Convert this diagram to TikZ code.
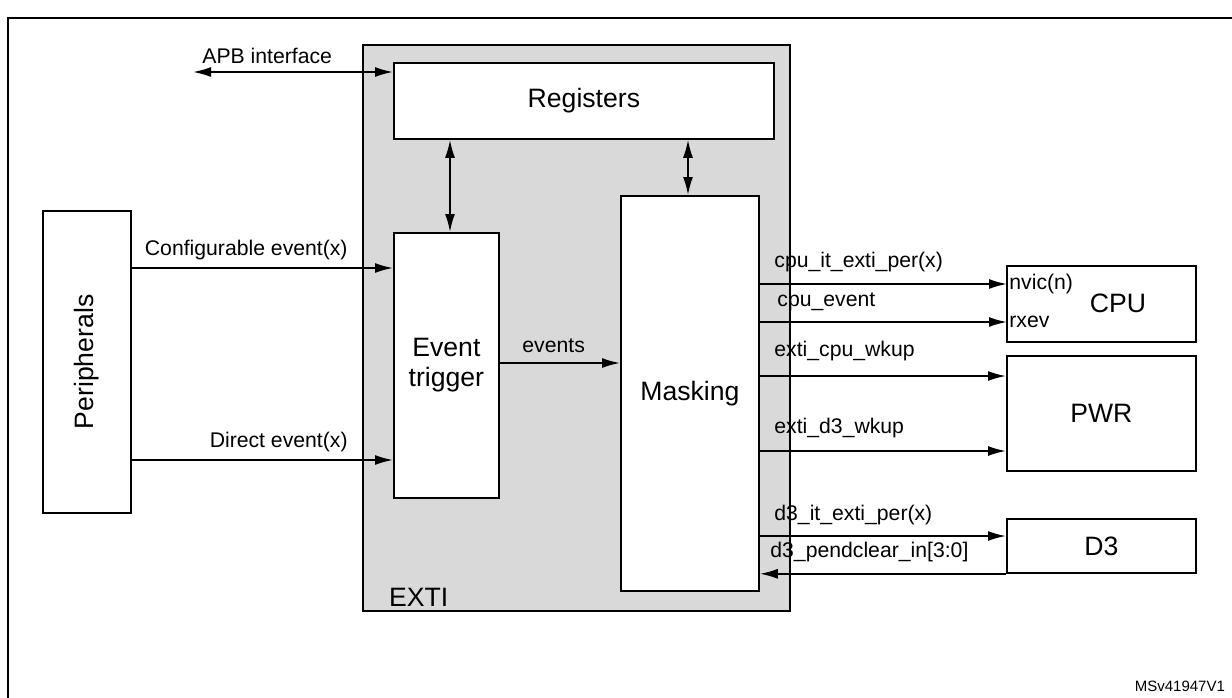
\documentclass[tikz,border=0pt]{standalone}
\usepackage{fontspec}
\setmainfont{Liberation Sans}
\usetikzlibrary{arrows.meta}
\begin{document}
\begin{tikzpicture}[x=0.5pt,y=-0.5pt,
  box/.style={draw,line width=0.9pt,fill=white},
  lab/.style={font=\fontsize{10.6}{12}\selectfont,inner sep=1pt},
  big/.style={font=\fontsize{13.3}{15}\selectfont,align=center},
  ar/.style={-{Latex[length=9pt,width=5pt]},line width=0.9pt},
  dar/.style={{Latex[length=9pt,width=5pt]}-{Latex[length=9pt,width=5pt]},line width=0.9pt}]
\useasboundingbox (0,0) rectangle (1232,697);
\draw[line width=1.3pt] (8,18) rectangle (1245,710);
\node[draw,line width=0.9pt,fill=black!15,minimum width=213.5pt,minimum height=283pt,anchor=north west,inner sep=0] (exti) at (362,44) {};
\node[anchor=south west,big] (extil) at (382,614) {EXTI};
\node[box,anchor=north west,minimum width=190pt,minimum height=38pt,big] (reg) at (393,62) {Registers};
\node[box,anchor=north west,minimum width=52.5pt,minimum height=132.5pt,big,inner sep=0] (evt) at (393,232) {Event\\trigger};
\node[box,anchor=north west,minimum width=69pt,minimum height=197.5pt,big,inner sep=0] (mask) at (620,195) {Masking};
\node[box,anchor=north west,minimum width=44pt,minimum height=151pt,inner sep=0] (per) at (42,210) {};
\node[big,rotate=90] at (per.center) {Peripherals};
\node[box,anchor=north west,minimum width=94.5pt,minimum height=38pt] (cpu) at (1006,265) {};
\node[big] at (1118,303) {CPU};
\node[box,anchor=north west,minimum width=94.5pt,minimum height=57.5pt,big] (pwr) at (1006,355) {PWR};
\node[box,anchor=north west,minimum width=94.5pt,minimum height=27pt,big] (d3) at (1006,518) {D3};
\node[lab,anchor=west] (nvic) at (1007,284) {nvic(n)};
\node[lab,anchor=west] (rxev) at (1007,322) {rxev};
\coordinate (apb) at (193,72);
\node[lab,anchor=south west] at (200,66) {APB interface};
\draw[dar] (apb) -- (reg.west |- apb);
\draw[dar] (reg.south -| 450,0) -- (evt.north -| 450,0);
\draw[dar] (reg.south -| 688,0) -- (mask.north -| 688,0);
\draw[ar] (per.east |- 0,268) -- (evt.west |- 0,268);
\node[lab,anchor=south east] at (350,262) {Configurable event(x)};
\draw[ar] (per.east |- 0,460) -- (evt.west |- 0,460);
\node[lab,anchor=south east] at (350,454) {Direct event(x)};
\draw[ar] (evt.east |- 0,363) -- (mask.west |- 0,363);
\node[lab,anchor=south west] at (520,355) {events};
\draw[ar] (mask.east |- nvic) -- (nvic.west);
\node[lab,anchor=south west] at (772,274) {cpu\_it\_exti\_per(x)};
\draw[ar] (mask.east |- rxev) -- (rxev.west);
\node[lab,anchor=south west] at (775,313) {cpu\_event};
\draw[ar] (mask.east |- 0,376) -- (pwr.west |- 0,376);
\node[lab,anchor=south west] at (772,363) {exti\_cpu\_wkup};
\draw[ar] (mask.east |- 0,451) -- (pwr.west |- 0,451);
\node[lab,anchor=south west] at (772,440) {exti\_d3\_wkup};
\draw[ar] (mask.east |- 0,536) -- (d3.west |- 0,536);
\node[lab,anchor=south west] at (772,527) {d3\_it\_exti\_per(x)};
\draw[ar] (d3.south west) -- (mask.east |- d3.south west);
\node[lab,anchor=south west] at (768,564) {d3\_pendclear\_in[3:0]};
\node[font=\fontsize{7.5}{8}\selectfont,anchor=east] at (1232,686) {MSv41947V1};
\end{tikzpicture}
\end{document}
